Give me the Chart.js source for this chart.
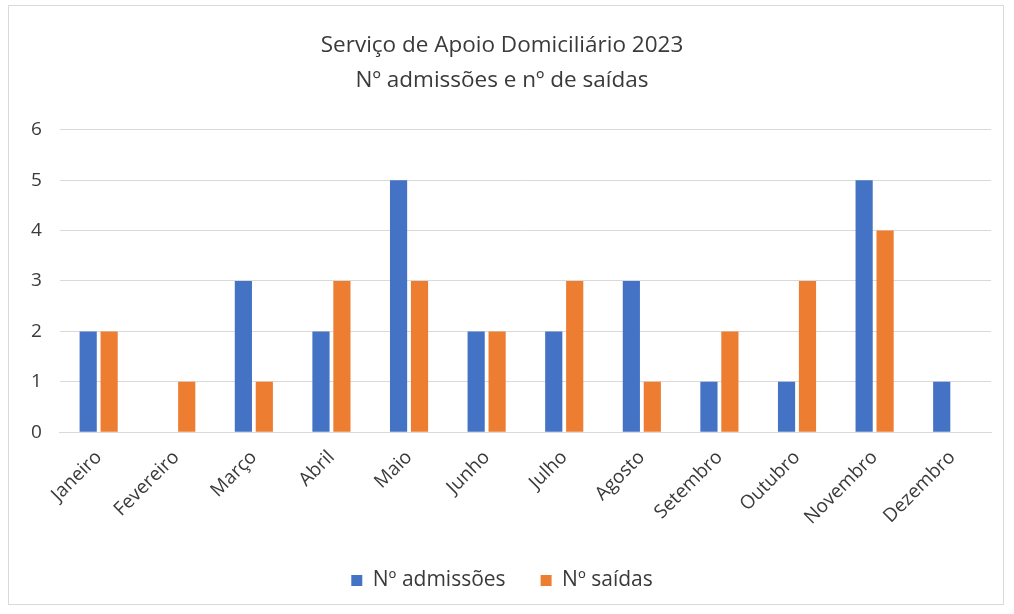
<!DOCTYPE html>
<html>
<head>
<meta charset="utf-8">
<script src="https://cdn.jsdelivr.net/npm/chart.js@4"></script>
<style>
  body { margin: 0; background: #fff; }
  #wrap { position: absolute; left: 8px; top: 5px; width: 996px; height: 600px; border: 1px solid #d9d9d9; box-sizing: border-box; }
</style>
</head>
<body>
<div id="wrap"><canvas id="myChart"></canvas></div>
<script>
var months = ['Janeiro','Fevereiro','Março','Abril','Maio','Junho','Julho','Agosto','Setembro','Outubro','Novembro','Dezembro'];
var admissoes = [2,0,3,2,5,2,2,3,1,1,5,1];
var saidas = [2,1,1,3,3,2,3,1,2,3,4,0];
var yTicks = [0,1,2,3,4,5,6];

var txt = '#3a3a3a';
var ctx = document.getElementById('myChart');

var myChart = new Chart(ctx, {
  type: 'bar',
  data: {
    labels: months,
    datasets: [{
      label: 'Nº admissões',
      data: admissoes,
      backgroundColor: '#4472C4',
      categoryPercentage: 0.54,
      barPercentage: 0.82
    }, {
      label: 'Nº saídas',
      data: saidas,
      backgroundColor: '#ED7D31',
      categoryPercentage: 0.54,
      barPercentage: 0.82
    }]
  },
  options: {
    responsive: true,
    maintainAspectRatio: false,
    animation: false,
    layout: { padding: { left: 4, right: 12, top: 8, bottom: 3 } },
    plugins: {
      title: {
        display: true,
        text: ['Serviço de Apoio Domiciliário 2023', 'Nº admissões e nº de saídas'],
        color: txt,
        font: { family: 'Open Sans', size: 22.5, weight: 'normal', lineHeight: 1.55 },
        padding: { top: 14, bottom: 32 }
      },
      legend: {
        position: 'bottom',
        labels: {
          color: txt,
          font: { family: 'Open Sans', size: 21 },
          boxWidth: 11,
          boxHeight: 11,
          padding: 35
        }
      },
      tooltip: { enabled: false }
    },
    scales: {
      x: {
        grid: { display: false },
        border: { color: '#d9d9d9' },
        ticks: {
          color: txt,
          font: { family: 'Open Sans', size: 19 },
          maxRotation: 45,
          minRotation: 45,
          padding: 6
        }
      },
      y: {
        min: 0,
        max: 6,
        afterBuildTicks: function (axis) {
          axis.ticks = yTicks.map(function (v) { return { value: v }; });
        },
        grid: { color: '#d9d9d9', drawTicks: false },
        border: { display: false },
        ticks: {
          color: txt,
          font: { family: 'Open Sans', size: 19 },
          padding: 18
        }
      }
    }
  }
});
</script>
</body>
</html>
